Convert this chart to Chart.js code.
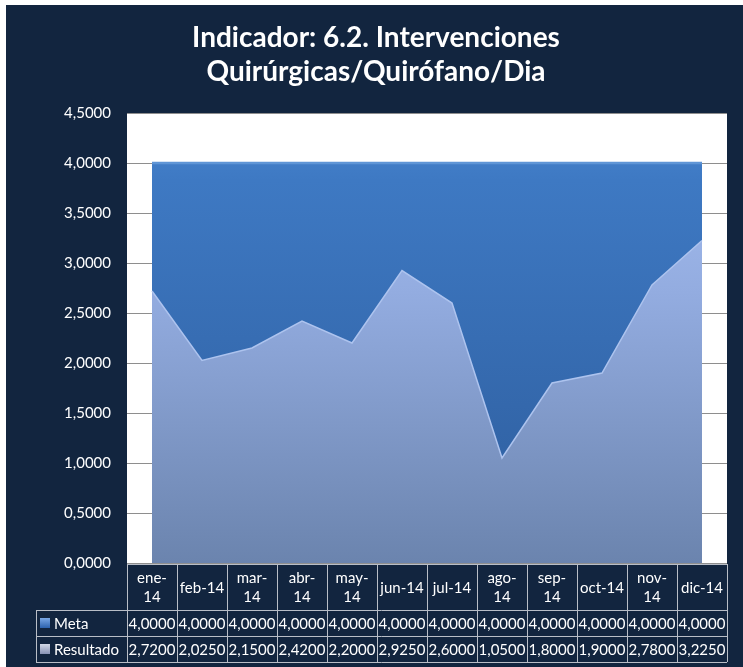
<!DOCTYPE html>
<html><head><meta charset="utf-8">
<script src="https://cdn.jsdelivr.net/npm/chart.js@4"></script>
<style>html,body{margin:0;padding:0;background:#fff;}#wrap{width:743px;height:667px;}</style>
</head><body><div id="wrap"><canvas id="c" width="743" height="667"></canvas></div>
<script>
const titleLines = ['Indicador: 6.2. Intervenciones', 'Quirúrgicas/Quirófano/Dia'];
const categories = ['ene-14','feb-14','mar-14','abr-14','may-14','jun-14','jul-14','ago-14','sep-14','oct-14','nov-14','dic-14'];
const headerLines = [['ene-','14'],['feb-14'],['mar-','14'],['abr-','14'],['may-','14'],['jun-14'],['jul-14'],['ago-','14'],['sep-','14'],['oct-14'],['nov-','14'],['dic-14']];
const seriesNames = ['Meta','Resultado'];
const metaValues = [4.0,4.0,4.0,4.0,4.0,4.0,4.0,4.0,4.0,4.0,4.0,4.0];
const resultadoValues = [2.72,2.025,2.15,2.42,2.2,2.925,2.6,1.05,1.8,1.9,2.78,3.225];
const yMin = 0, yMax = 4.5, yStep = 0.5;

const FONT = 'Lato';
const fmt = v => Number(v).toFixed(4).replace('.', ',');

function vGrad(chart, stops){
  const a = chart.chartArea;
  if(!a) return stops[0][1];
  const g = chart.ctx.createLinearGradient(0, a.top, 0, a.bottom);
  stops.forEach(s => g.addColorStop(s[0], s[1]));
  return g;
}

const decor = {
  id: 'decor',
  beforeDraw(chart){
    const ctx = chart.ctx, a = chart.chartArea;
    ctx.save();
    ctx.fillStyle = '#ffffff';
    ctx.fillRect(0, 0, chart.width, chart.height);
    ctx.fillStyle = '#12253f';
    ctx.fillRect(6, 5, chart.width - 6, chart.height - 5);
    ctx.fillStyle = '#ffffff';
    ctx.fillRect(a.left, a.top, a.right - a.left, a.bottom - a.top);
    ctx.fillStyle = '#ffffff';
    ctx.font = 'bold 28px ' + FONT;
    ctx.textAlign = 'center';
    ctx.textBaseline = 'alphabetic';
    ctx.fillText(titleLines[0], 376, 47);
    ctx.fillText(titleLines[1], 376, 81);
    ctx.restore();
  },
  afterDraw(chart){
    const ctx = chart.ctx, a = chart.chartArea, xs = chart.scales.x;
    const step = xs.getPixelForValue(1) - xs.getPixelForValue(0);
    const left = Math.round(xs.getPixelForValue(0) - step / 2);
    const right = Math.round(xs.getPixelForValue(categories.length - 1) + step / 2);
    const headTop = Math.round(a.bottom) + 1;
    const headH = 46, rowH = 26;
    const legLeft = 36;
    const r1 = headTop + headH, r2 = r1 + rowH, r3 = r2 + rowH;
    ctx.save();
    ctx.strokeStyle = '#b9bec7';
    ctx.lineWidth = 1;
    ctx.beginPath();
    ctx.moveTo(left, headTop + 0.5); ctx.lineTo(right, headTop + 0.5);
    [r1, r2, r3].forEach(y => { ctx.moveTo(legLeft, y + 0.5); ctx.lineTo(right, y + 0.5); });
    ctx.moveTo(legLeft + 0.5, r1); ctx.lineTo(legLeft + 0.5, r3);
    for(let i = 0; i <= categories.length; i++){
      const x = Math.round(xs.getPixelForValue(0) - step / 2 + i * step) + 0.5;
      ctx.moveTo(x, headTop); ctx.lineTo(x, r3);
    }
    ctx.stroke();

    ctx.fillStyle = '#ffffff';
    ctx.font = '15px ' + FONT;
    ctx.textAlign = 'center';
    ctx.textBaseline = 'middle';
    headerLines.forEach((lines, i) => {
      const cx = xs.getPixelForValue(i);
      const mid = headTop + headH / 2;
      const lh = 19;
      lines.forEach((t, k) => {
        ctx.fillText(t, cx, mid + (k - (lines.length - 1) / 2) * lh + 1);
      });
    });
    const rows = [metaValues, resultadoValues];
    const rowTops = [r1, r2];
    rows.forEach((vals, ri) => {
      const cy = rowTops[ri] + rowH / 2 + 1;
      vals.forEach((v, i) => ctx.fillText(fmt(v), xs.getPixelForValue(i), cy));
    });
    const keyCols = [['#7aa8e6', '#2c62ae'], ['#d3d9e8', '#8792b4']];
    rows.forEach((vals, ri) => {
      const cy = rowTops[ri] + rowH / 2;
      const g = ctx.createLinearGradient(0, cy - 5, 0, cy + 5);
      g.addColorStop(0, keyCols[ri][0]); g.addColorStop(1, keyCols[ri][1]);
      ctx.fillStyle = g;
      ctx.fillRect(40, cy - 5, 10, 10);
      ctx.fillStyle = '#ffffff';
      ctx.textAlign = 'left';
      ctx.fillText(seriesNames[ri], 54, cy + 1);
    });
    ctx.restore();
  }
};

new Chart(document.getElementById('c'), {
  type: 'line',
  data: {
    labels: categories,
    datasets: [
      {
        label: seriesNames[0],
        data: metaValues,
        order: 2,
        fill: 'origin',
        tension: 0,
        pointRadius: 0,
        borderColor: '#5f95d6',
        borderWidth: 2.5,
        backgroundColor: ctx => vGrad(ctx.chart, [[0, '#4a86d0'], [0.15, '#3e79c3'], [1, '#2d5c9c']])
      },
      {
        label: seriesNames[1],
        data: resultadoValues,
        order: 1,
        fill: 'origin',
        tension: 0,
        pointRadius: 0,
        borderColor: '#adc3ee',
        borderWidth: 1.5,
        backgroundColor: ctx => vGrad(ctx.chart, [[0, '#aac2f2'], [0.4, '#93ace0'], [1, '#6b84ae']])
      }
    ]
  },
  options: {
    responsive: false,
    animation: false,
    devicePixelRatio: 1,
    layout: { padding: { top: 113, right: 16, bottom: 104, left: 0 } },
    plugins: { legend: { display: false }, title: { display: false }, tooltip: { enabled: false } },
    scales: {
      x: { type: 'category', offset: true, display: false },
      y: {
        min: yMin, max: yMax,
        afterFit: s => { s.width = 127; },
        border: { display: false },
        grid: { color: '#8e8e8e', lineWidth: 1, drawTicks: false },
        ticks: {
          stepSize: yStep,
          padding: 16,
          color: '#ffffff',
          font: { family: FONT, size: 15 },
          callback: v => fmt(v)
        }
      }
    }
  },
  plugins: [decor]
});
</script>
</body></html>
